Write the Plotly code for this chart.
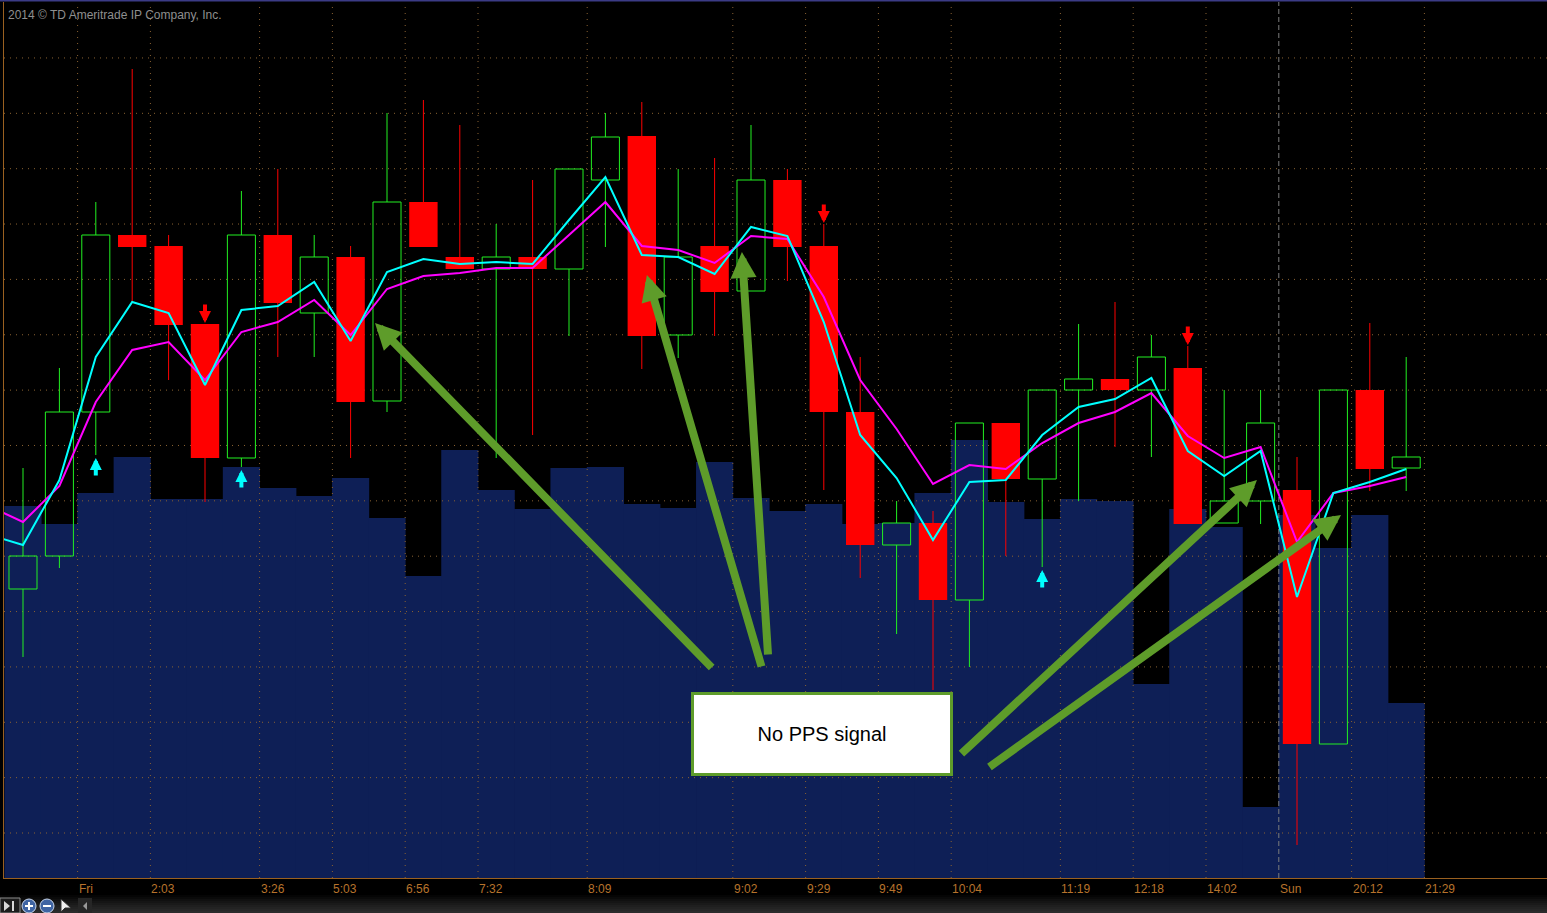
import plotly.graph_objects as go

# ---------------- data ----------------
# candle index 0..38 ; prices in chart points
opens  = [411, 444, 588, 765, 754, 676, 542, 765, 687, 743,
          599, 798, 743, 731, 743, 731, 820, 864, 665, 754,
          709, 820, 754, 588, 455, 477, 400, 577, 521, 610,
          621, 610, 632, 477, 499, 510, 256, 610, 532]
highs  = [532, 632, 798, 931, 765, 676, 809, 831, 765, 754,
          887, 900, 875, 776, 820, 831, 887, 898, 831, 842,
          875, 831, 776, 643, 499, 489, 577, 577, 610, 676,
          698, 665, 654, 610, 610, 543, 610, 677, 643]
lows   = [343, 432, 545, 698, 620, 498, 533, 643, 643, 542,
          588, 753, 731, 542, 565, 664, 753, 631, 642, 664,
          709, 719, 510, 422, 366, 310, 333, 444, 433, 499,
          553, 543, 476, 477, 476, 155, 256, 509, 509]
closes = [444, 588, 765, 753, 675, 542, 765, 697, 743, 598,
          798, 753, 731, 743, 731, 831, 863, 664, 743, 708,
          820, 753, 588, 455, 477, 400, 577, 521, 610, 621,
          610, 643, 476, 499, 577, 256, 610, 531, 543]
volume = [3720, 3540, 3850, 4210, 3790, 3790, 4110, 3900, 3820, 4000,
          3600, 3020, 4280, 3880, 3690, 4100, 4110, 3740, 3700, 4160,
          3800, 3670, 3740, 3540, 3550, 3850, 4380, 3760, 3590, 3790,
          3770, 1940, 3690, 3510, 710, 3630, 3300, 3630, 1750]
# moving averages, index -1..38
ema_x    = list(range(-1, 39))
ema_fast = [466, 455, 520, 643, 698, 687, 615, 690, 694, 718, 659,
            728, 741, 736, 738, 736, 780, 823, 745, 743, 726,
            773, 764, 678, 565, 522, 460, 518, 520, 565, 593,
            601, 622, 549, 524, 549, 403, 507, 518, 531]
ema_slow = [495, 478, 514, 598, 650, 658, 620, 668, 678, 700, 665,
            711, 724, 727, 732, 732, 765, 798, 754, 750, 737,
            764, 761, 703, 620, 571, 516, 535, 531, 557, 577,
            588, 607, 564, 542, 553, 458, 507, 514, 523]
buy_signals = [2, 6, 28]
sell_signals = [5, 22, 32]
tick_pos  = [1.5, 3.5, 6.5, 8.5, 10.5, 12.5, 15.5, 19.5, 21.5, 23.5,
             25.5, 28.5, 30.5, 32.5, 34.5, 36.5, 38.5]
tick_text = ["Fri", "2:03", "3:26", "5:03", "6:56", "7:32", "8:09", "9:02", "9:29", "9:49",
             "10:04", "11:19", "12:18", "14:02", "Sun", "20:12", "21:29"]
day_break = "Sun"
note_text = "No PPS signal"
note_tips_x  = [9.67, 17.14, 19.75, 33.90, 36.21]
note_tips_y  = [677, 725, 748, 520, 485]
note_tails_x = [18.96, 20.30, 20.47, 25.74, 26.51]
note_tails_y = [331, 332, 344, 245, 232]
copyright_text = "2014 \u00a9 TD Ameritrade IP Company, Inc."

# ---------------- styles ----------------
BG = "#000000"
NAVY = "#0e1f56"
GREEN = "#22f022"
RED = "#ff0000"
CYAN = "#00ffff"
MAGENTA = "#ff00ff"
GRID = "#8a6232"
AXIS = "#9a6020"
LABEL = "#b7732c"
OLIVE = "#5e9c2a"

W, H = 1547, 913
ML, MT, MB = 4, 2, 35
X_RANGE = [-0.522, 41.868]
P_RANGE = [122, 998]
V_RANGE = [0, 8760]
GRID_TOP = 997.4
GRID_STEP = 55.36

def px(xp):
    return (xp - ML) / (W - ML)

def py(yp):
    return (H - MB - yp) / (H - MB - MT)

n = len(opens)
xs = list(range(n))
fig = go.Figure()

# volume (main subplot, behind everything)
fig.add_trace(go.Bar(x=xs, y=volume, width=1.02, marker=dict(color=NAVY, line=dict(width=0)),
                     xaxis="x", yaxis="y", hoverinfo="skip"))

# grid drawn above volume but below price (main subplot scatter)
def p2v(p):
    return (p - P_RANGE[0]) / (P_RANGE[1] - P_RANGE[0]) * (V_RANGE[1] - V_RANGE[0]) + V_RANGE[0]

gx, gy = [], []
for k in range(1, 16):
    g = p2v(GRID_TOP - GRID_STEP * k)
    gx += [X_RANGE[0], X_RANGE[1], None]
    gy += [g, g, None]
for t, lab in zip(tick_pos, tick_text):
    if lab == day_break:
        continue
    gx += [t, t, None]
    gy += [V_RANGE[0], V_RANGE[1], None]
fig.add_trace(go.Scatter(x=gx, y=gy, mode="lines", line=dict(color=GRID, width=1, dash="1px,5px"),
                         xaxis="x", yaxis="y", hoverinfo="skip"))
for t, lab in zip(tick_pos, tick_text):
    if lab == day_break:
        fig.add_trace(go.Scatter(x=[t, t], y=V_RANGE, mode="lines",
                                 line=dict(color="#7c7c7c", width=1, dash="5px,3px"),
                                 xaxis="x", yaxis="y", hoverinfo="skip"))

# candle bodies
up_i = [i for i in xs if closes[i] >= opens[i]]
dn_i = [i for i in xs if closes[i] < opens[i]]
fig.add_trace(go.Bar(x=up_i, base=[opens[i] for i in up_i], y=[closes[i] - opens[i] for i in up_i],
                     width=0.77, marker=dict(color="rgba(0,0,0,0)", line=dict(color=GREEN, width=1)),
                     xaxis="x", yaxis="y2", hoverinfo="skip"))
fig.add_trace(go.Bar(x=dn_i, base=[closes[i] for i in dn_i], y=[opens[i] - closes[i] for i in dn_i],
                     width=0.78, marker=dict(color=RED, line=dict(width=0)),
                     xaxis="x", yaxis="y2", hoverinfo="skip"))

# wicks
def wick_xy(idx):
    wx, wy = [], []
    for i in idx:
        top = max(opens[i], closes[i]); bot = min(opens[i], closes[i])
        if highs[i] > top:
            wx += [i, i, None]; wy += [top, highs[i], None]
        if lows[i] < bot:
            wx += [i, i, None]; wy += [bot, lows[i], None]
    return wx, wy

wx, wy = wick_xy(up_i)
fig.add_trace(go.Scatter(x=wx, y=wy, mode="lines", line=dict(color=GREEN, width=1),
                         xaxis="x", yaxis="y2", hoverinfo="skip"))
wx, wy = wick_xy(dn_i)
fig.add_trace(go.Scatter(x=wx, y=wy, mode="lines", line=dict(color=RED, width=1),
                         xaxis="x", yaxis="y2", hoverinfo="skip"))

# moving averages
fig.add_trace(go.Scatter(x=ema_x, y=ema_slow, mode="lines", line=dict(color=MAGENTA, width=2),
                         xaxis="x", yaxis="y2", hoverinfo="skip"))
fig.add_trace(go.Scatter(x=ema_x, y=ema_fast, mode="lines", line=dict(color=CYAN, width=2),
                         xaxis="x", yaxis="y2", hoverinfo="skip"))

annotations = []
for i in buy_signals:
    annotations.append(dict(x=i, y=lows[i], xref="x", yref="y2", text="", showarrow=True,
                            ax=0, ay=22, arrowhead=2, arrowsize=0.6, arrowwidth=4,
                            arrowcolor=CYAN, standoff=3))
for i in sell_signals:
    annotations.append(dict(x=i, y=highs[i], xref="x", yref="y2", text="", showarrow=True,
                            ax=0, ay=-21, arrowhead=2, arrowsize=0.6, arrowwidth=4,
                            arrowcolor=RED, standoff=1))
for tx, ty, sx, sy in zip(note_tips_x, note_tips_y, note_tails_x, note_tails_y):
    annotations.append(dict(x=tx, y=ty, xref="x", yref="y2", ax=sx, ay=sy, axref="x", ayref="y2",
                            text="", showarrow=True, arrowhead=2, arrowsize=0.65, arrowwidth=8,
                            arrowcolor=OLIVE, standoff=0))
annotations.append(dict(x=px(822), y=py(734), xref="paper", yref="paper",
                        text=note_text, showarrow=False, width=256, height=78,
                        bgcolor="#ffffff", bordercolor=OLIVE, borderwidth=3, borderpad=0,
                        font=dict(family="Liberation Sans, Arial", size=20, color="#000000"),
                        xanchor="center", yanchor="middle"))
annotations.append(dict(x=px(6), y=py(15), xref="paper", yref="paper",
                        text=copyright_text, showarrow=False, xanchor="left", yanchor="middle",
                        font=dict(family="Liberation Sans, Arial", size=12, color="#8f8f8f")))
for t, lab in zip(tick_pos, tick_text):
    annotations.append(dict(x=t, y=py(889), xref="x", yref="paper", text=lab,
                            showarrow=False, xanchor="left", yanchor="middle", xshift=-1,
                            font=dict(family="Liberation Sans, Arial", size=12, color=LABEL)))

shapes = []
# top border
shapes.append(dict(type="line", xref="paper", yref="paper", x0=px(0), x1=1, y0=py(0.5), y1=py(0.5),
                   line=dict(color="#3b3b86", width=2), layer="above"))
# bottom toolbar gradient
grays = ["#050505", "#0a0a0a", "#101010", "#151515", "#1a1a1a", "#1f1f1f", "#232323", "#272727", "#2b2b2b"]
for j, c in enumerate(grays):
    y0 = 895 + 2 * j
    shapes.append(dict(type="rect", xref="paper", yref="paper", x0=px(0), x1=1,
                       y0=py(y0), y1=py(y0 + 2), line=dict(width=0), fillcolor=c, layer="above"))
# toolbar icons (bottom left)
shapes.append(dict(type="rect", xref="paper", yref="paper", x0=px(0), x1=px(20), y0=py(898), y1=py(913),
                   line=dict(color="#8a8a8a", width=1), fillcolor="#1c1c1c", layer="above"))
shapes.append(dict(type="path", xref="paper", yref="paper",
                   path="M %f,%f L %f,%f L %f,%f Z" % (px(4), py(901), px(4), py(911), px(10), py(906)),
                   line=dict(width=0), fillcolor="#d8d8d8", layer="above"))
shapes.append(dict(type="rect", xref="paper", yref="paper", x0=px(12), x1=px(14), y0=py(901), y1=py(911),
                   line=dict(width=0), fillcolor="#d8d8d8", layer="above"))
for cx, sign in ((29, "+"), (47, "-")):
    shapes.append(dict(type="circle", xref="paper", yref="paper", x0=px(cx - 7), x1=px(cx + 7),
                       y0=py(899), y1=py(913), line=dict(color="#c9d6ea", width=1),
                       fillcolor="#3f64a3", layer="above"))
    shapes.append(dict(type="line", xref="paper", yref="paper", x0=px(cx - 4), x1=px(cx + 4),
                       y0=py(906), y1=py(906), line=dict(color="#ffffff", width=2), layer="above"))
    if sign == "+":
        shapes.append(dict(type="line", xref="paper", yref="paper", x0=px(cx), x1=px(cx),
                           y0=py(902), y1=py(910), line=dict(color="#ffffff", width=2), layer="above"))
shapes.append(dict(type="path", xref="paper", yref="paper",
                   path="M %f,%f L %f,%f L %f,%f L %f,%f Z" % (px(61), py(899), px(61), py(912),
                                                             px(65), py(908), px(71), py(908)),
                   line=dict(color="#333333", width=1), fillcolor="#f0f0f0", layer="above"))
shapes.append(dict(type="rect", xref="paper", yref="paper", x0=px(78), x1=px(92), y0=py(898), y1=py(913),
                   line=dict(width=0), fillcolor="#262626", layer="above"))
shapes.append(dict(type="path", xref="paper", yref="paper",
                   path="M %f,%f L %f,%f L %f,%f Z" % (px(87), py(902), px(87), py(910), px(83), py(906)),
                   line=dict(width=0), fillcolor="#9a9a9a", layer="above"))

fig.update_layout(
    width=W, height=H, margin=dict(l=ML, r=0, t=MT, b=MB),
    paper_bgcolor=BG, plot_bgcolor=BG, showlegend=False, barmode="overlay",
    xaxis=dict(range=X_RANGE, showgrid=False, zeroline=False, showticklabels=False, ticks="",
               showline=True, linecolor=AXIS, linewidth=1, fixedrange=True),
    yaxis=dict(range=V_RANGE, showgrid=False, zeroline=False, showticklabels=False, ticks="",
               showline=True, linecolor=AXIS, linewidth=1, fixedrange=True),
    yaxis2=dict(range=P_RANGE, overlaying="y", showgrid=False, zeroline=False, showticklabels=False,
                ticks="", fixedrange=True),
    annotations=annotations, shapes=shapes,
)

fig.write_html("out.html", config={"displayModeBar": False},
               post_script="document.body.style.margin='0';document.body.style.overflow='hidden';")
